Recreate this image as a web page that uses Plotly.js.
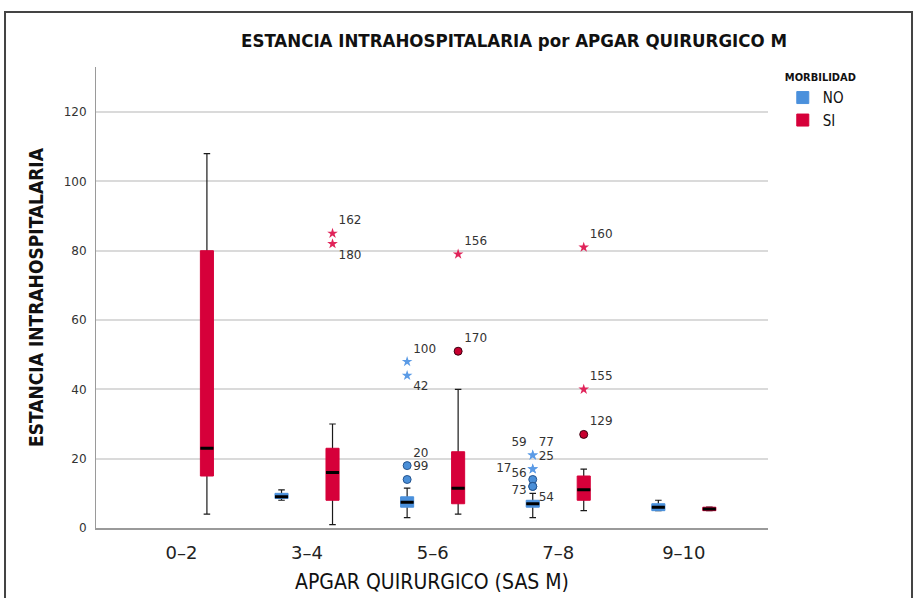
<!DOCTYPE html>
<html>
<head>
<meta charset="utf-8">
<script src="https://cdn.plot.ly/plotly-3.0.1.min.js"></script>
<style>html,body{margin:0;padding:0;background:#fff;}#chart{width:914px;height:598px;}</style>
</head>
<body>
<div id="chart"></div>
<script>
// ---------- data ----------
const categories = ['0–2', '3–4', '5–6', '7–8', '9–10'];

// MORBILIDAD = NO (no cases in 0–2)
const noCategories = ['3–4', '5–6', '7–8', '9–10'];
const noMin    = [8, 3, 3, 5];
const noQ1     = [8.5, 6, 6, 5];
const noMedian = [9, 7.4, 7, 6];
const noQ3     = [10, 9, 8, 7];
const noMax    = [11, 11.5, 10, 8];

// MORBILIDAD = SI
const siCategories = ['0–2', '3–4', '5–6', '7–8', '9–10'];
const siMin    = [4, 1, 4, 5, 5];
const siQ1     = [15, 8, 7, 8, 5];
const siMedian = [23, 16, 11.5, 11, 5.5];
const siQ3     = [80, 23, 22, 15, 6];
const siMax    = [108, 30, 40, 17, 6];

// outliers (circle = atypical, star = extreme)
const noOutCat   = ['5–6', '5–6', '5–6', '5–6', '7–8', '7–8', '7–8', '7–8', '7–8', '7–8', '7–8'];
const noOutVal   = [18, 14, 48, 44, 21, 21, 17, 17, 14, 12, 12];
const noOutLabel = ['20', '99', '100', '42', '77', '59', '25', '17', '73', '56', '54'];
const noOutKind  = ['circle', 'circle', 'star', 'star', 'star', 'star', 'star', 'star', 'circle', 'circle', 'circle'];

const siOutCat   = ['3–4', '3–4', '5–6', '5–6', '7–8', '7–8', '7–8'];
const siOutVal   = [85, 82, 79, 51, 81, 40, 27];
const siOutLabel = ['162', '180', '156', '170', '160', '155', '129'];
const siOutKind  = ['star', 'star', 'star', 'circle', 'star', 'star', 'circle'];

// ---------- styling ----------
const BLUE = '#4A90DC', RED = '#D6003A';
const OFFSET = 0.203, BOXW = 0.104;
const NARROW = 'Liberation Sans Narrow, DejaVu Sans Condensed, sans-serif';
const labelPos = {
  '20': 'top right', '99': 'top right', '100': 'top right', '42': 'bottom right',
  '77': 'top right', '59': 'top left', '25': 'top right', '17': 'middle left',
  '73': 'bottom left', '56': 'top left', '54': 'bottom right',
  '162': 'top right', '180': 'bottom right', '156': 'top right', '170': 'top right',
  '160': 'top right', '155': 'top right', '129': 'top right'
};
const labelPad = { '17': '\u00a0\u00a0\u00a0\u00a0' };
const xOf = (cats, off) => cats.map(c => categories.indexOf(c) + off);

function boxLayers(name, cats, off, lo, q1, med, q3, hi, color) {
  const xs = xOf(cats, off);
  const common = { type: 'box', orientation: 'v', x: xs, width: BOXW, boxpoints: false, hoverinfo: 'skip' };
  return [
    Object.assign({}, common, { // whiskers
      q1: med, median: med, q3: med, lowerfence: lo, upperfence: hi,
      line: { color: '#1a1a1a', width: 1.2 }, fillcolor: 'rgba(0,0,0,0)',
      whiskerwidth: 0.5, showlegend: false, name: name + 'w'
    }),
    Object.assign({}, common, { // body
      q1: q1, median: med, q3: q3, lowerfence: q1, upperfence: q3,
      line: { color: color, width: 1 }, fillcolor: color,
      whiskerwidth: 0, showlegend: true, name: name
    }),
    Object.assign({}, common, { // median
      q1: med, median: med, q3: med, lowerfence: med, upperfence: med,
      line: { color: '#000', width: 3 }, fillcolor: 'rgba(0,0,0,0)',
      whiskerwidth: 0, showlegend: false, name: name + 'm'
    })
  ];
}

function outTrace(cats, off, vals, labels, kinds, color, circleFill, circleLine) {
  return {
    type: 'scatter', mode: 'markers+text',
    x: xOf(cats, off), y: vals,
    text: labels.map(l => l + (labelPad[l] || '')),
    textposition: labels.map(l => labelPos[l]),
    textfont: { family: 'DejaVu Sans', size: 12, color: '#333' },
    marker: {
      symbol: kinds,
      size: 8,
      color: kinds.map(k => k === 'star' ? color : circleFill),
      line: { width: kinds.map(k => k === 'star' ? 0 : 1), color: circleLine }
    },
    cliponaxis: false, showlegend: false, hoverinfo: 'skip'
  };
}

const data = [].concat(
  boxLayers('NO', noCategories, -OFFSET, noMin, noQ1, noMedian, noQ3, noMax, BLUE),
  boxLayers('SI', siCategories, OFFSET, siMin, siQ1, siMedian, siQ3, siMax, RED),
  [outTrace(noOutCat, -OFFSET, noOutVal, noOutLabel, noOutKind, '#5B9BE6', '#4A8FD8', '#24548f'),
   outTrace(siOutCat, OFFSET, siOutVal, siOutLabel, siOutKind, '#E0245A', '#C8002F', '#3a0010')]
);

const layout = {
  width: 914, height: 598,
  margin: { l: 96, r: 146, t: 67, b: 70 },
  paper_bgcolor: '#fff', plot_bgcolor: '#fff',
  boxmode: 'overlay',
  title: {
    text: 'ESTANCIA INTRAHOSPITALARIA por APGAR QUIRURGICO M',
    font: { family: NARROW, size: 18.5, color: '#111', weight: 'bold' },
    x: 0.5624, xref: 'container', xanchor: 'center',
    y: 0.933, yref: 'container', yanchor: 'middle'
  },
  xaxis: {
    range: [-0.68, 4.67],
    tickvals: categories.map((c, i) => i), ticktext: categories,
    tickfont: { family: 'DejaVu Sans', size: 18, color: '#222' },
    ticklabelstandoff: 7,
    showgrid: false, zeroline: false,
    showline: true, linecolor: '#9a9a9a', linewidth: 2,
    ticks: '',
    title: { text: 'APGAR QUIRURGICO (SAS M)', standoff: 13,
      font: { family: NARROW, size: 21, color: '#111' } }
  },
  yaxis: {
    range: [0, 133],
    tickvals: [0, 20, 40, 60, 80, 100, 120],
    tickfont: { family: 'DejaVu Sans', size: 12, color: '#333' },
    ticklabelstandoff: 6,
    showgrid: true, gridcolor: '#dadada', gridwidth: 2,
    zeroline: false, showline: true, linecolor: '#9a9a9a', linewidth: 1,
    ticks: '',
    title: { text: 'ESTANCIA INTRAHOSPITALARIA', standoff: 15,
      font: { family: NARROW, size: 19, color: '#111', weight: 'bold' } }
  },
  legend: {
    x: 1.022, xanchor: 'left', y: 1.0, yanchor: 'top',
    title: { text: 'MORBILIDAD', font: { family: NARROW, size: 11, color: '#111', weight: 'bold' } },
    font: { family: NARROW, size: 15, color: '#111' },
    itemwidth: 30, tracegroupgap: 0, bgcolor: 'rgba(0,0,0,0)'
  },
  shapes: [{
    type: 'rect', xref: 'paper', yref: 'paper',
    x0: -0.1354, x1: 1.2143, y0: -0.3, y1: 1.1193,
    line: { color: '#444', width: 2 }, fillcolor: 'rgba(0,0,0,0)', layer: 'below'
  }],
  showlegend: true
};

Plotly.newPlot('chart', data, layout, { displayModeBar: false, staticPlot: true });
</script>
</body>
</html>
